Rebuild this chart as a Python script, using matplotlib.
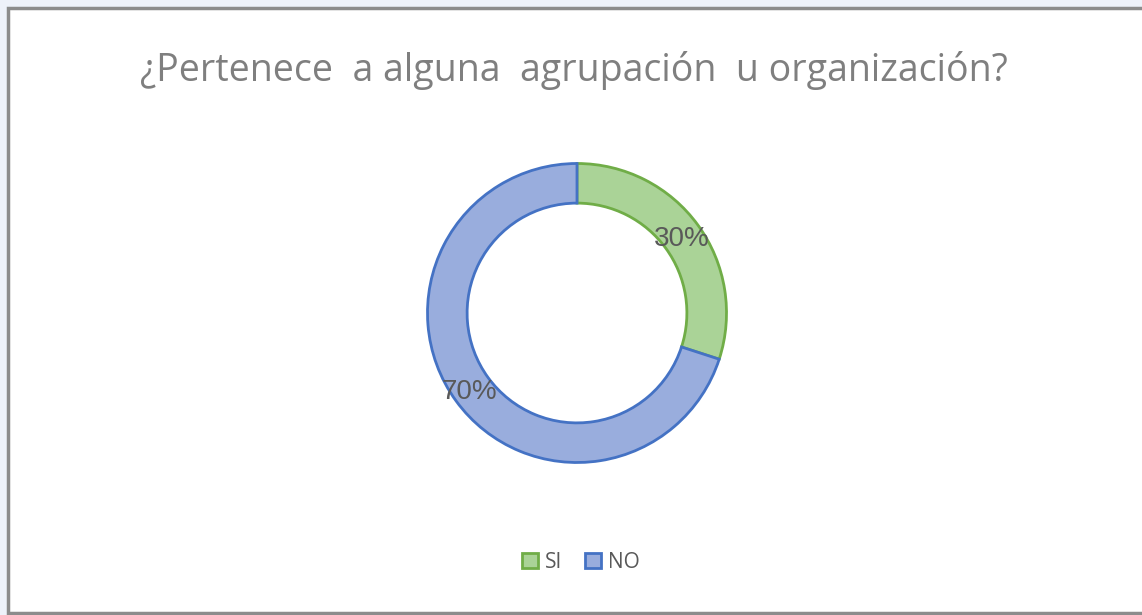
import matplotlib.pyplot as plt
from matplotlib.patches import Rectangle

labels = ['SI', 'NO']
values = [30, 70]
pct_text = ['30%', '70%']
title = '¿Pertenece  a alguna  agrupación  u organización?'

fill_colors = ['#aad397', '#99addd']
edge_colors = ['#70ad47', '#4472c4']

W, H = 1142, 615
fig = plt.figure(figsize=(W / 100, H / 100), dpi=100)
fig.patch.set_facecolor('#eef2fa')

# white chart area with gray frame
fig.patches.append(Rectangle((8 / W, 2 / H), 1.2, (H - 10) / H, transform=fig.transFigure,
                             facecolor='white', edgecolor='#8c8c8c', linewidth=2.5, zorder=0))

# donut, centre (577, 313), outer radius 151 px
cx, cy, r = 577, 313, 151
ax = fig.add_axes([(cx - r) / W, (H - cy - r) / H, 2 * r / W, 2 * r / H])
ax.set_zorder(2)
ax.patch.set_visible(False)
wedges, _ = ax.pie(values, startangle=90, counterclock=False, radius=1,
                   colors=fill_colors,
                   wedgeprops=dict(width=0.265, linewidth=2))
for w, ec in zip(wedges, edge_colors):
    w.set_edgecolor(ec)
ax.set_aspect('equal')
ax.set_xlim(-1.01, 1.01)
ax.set_ylim(-1.01, 1.01)

# percent labels
fig.text(682 / W, 1 - 239 / H, pct_text[0], ha='center', va='center',
         fontsize=20, color='#595959', family='Liberation Sans', zorder=5)
fig.text(469 / W, 1 - 392 / H, pct_text[1], ha='center', va='center',
         fontsize=20, color='#595959', family='Liberation Sans', zorder=5)

fig.text(574 / W, 1 - 70 / H, title, ha='center', va='center',
         fontsize=27, color='#7f7f7f', family='Open Sans')

# legend
leg = fig.legend(wedges, labels, loc='center', bbox_to_anchor=(581 / W, 1 - 562 / H),
                 ncol=2, frameon=False, handlelength=0.75, handleheight=0.75,
                 handletextpad=0.35, columnspacing=1.1,
                 prop=dict(family='Open Sans', size=15))
for t in leg.get_texts():
    t.set_color('#595959')

fig.savefig('out.png', dpi=100, facecolor=fig.get_facecolor())
